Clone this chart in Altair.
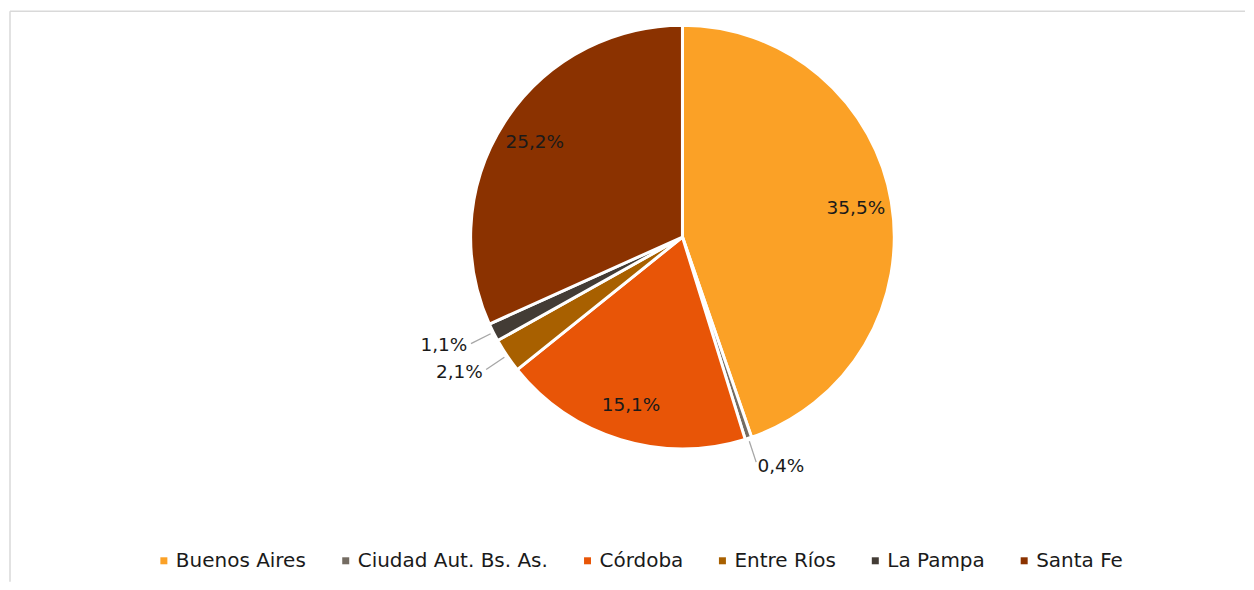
import altair as alt
import pandas as pd

provincias = ["Buenos Aires", "Ciudad Aut. Bs. As.", "Córdoba", "Entre Ríos", "La Pampa", "Santa Fe"]
valores = [35.5, 0.4, 15.1, 2.1, 1.1, 25.2]
etiquetas = ["35,5%", "0,4%", "15,1%", "2,1%", "1,1%", "25,2%"]
colores = ["#FBA126", "#746c62", "#E85507", "#A86000", "#433c35", "#8B3200"]

df = pd.DataFrame({
    "provincia": provincias,
    "valor": valores,
    "etiqueta": etiquetas,
    "idx": list(range(len(provincias))),
})

CX, CY = 675, 229
R = 212
FONT = "DejaVu Sans"

base = alt.Chart(df).transform_window(
    cum="sum(valor)", sort=[alt.SortField("idx")]
).transform_joinaggregate(
    total="sum(valor)"
).transform_calculate(
    lab_in="datum.valor > 5 ? datum.etiqueta : ''",
    lab_r="datum.valor <= 5 && (datum.cum - datum.valor / 2) / datum.total < 0.5 ? datum.etiqueta : ''",
    lab_l="datum.valor <= 5 && (datum.cum - datum.valor / 2) / datum.total >= 0.5 ? datum.etiqueta : ''",
).encode(
    theta=alt.Theta("valor:Q", stack=True),
    color=alt.Color(
        "provincia:N",
        scale=alt.Scale(domain=provincias, range=colores),
        legend=alt.Legend(title=None),
        sort=provincias,
    ),
    order=alt.Order("idx:Q"),
    x=alt.value(CX),
    y=alt.value(CY),
)

pie = base.mark_arc(radius=R, stroke="white", strokeWidth=3)

txt_in = base.mark_text(radius=176, font=FONT, fontSize=18.5,
                        align="center", baseline="middle").encode(
    text="lab_in:N", color=alt.value("#1a1a1a"))
txt_r = base.mark_text(radius=241, font=FONT, fontSize=18.5,
                       align="left", baseline="middle").encode(
    text="lab_r:N", color=alt.value("#1a1a1a"))
txt_l = base.mark_text(radius=241, font=FONT, fontSize=18.5,
                       align="right", baseline="middle").encode(
    text="lab_l:N", color=alt.value("#1a1a1a"))

leaders = alt.Chart(df).transform_window(
    cum="sum(valor)", sort=[alt.SortField("idx")]
).transform_joinaggregate(
    total="sum(valor)"
).transform_filter(
    "datum.valor <= 5"
).transform_calculate(
    a="2 * PI * (datum.cum - datum.valor / 2) / datum.total",
).transform_calculate(
    x1=f"{CX} + {R + 3} * sin(datum.a)",
    y1=f"{CY} - {R + 3} * cos(datum.a)",
    x2=f"{CX} + {R + 25} * sin(datum.a)",
    y2=f"{CY} - {R + 25} * cos(datum.a)",
).mark_rule(color="#a6a6a6", strokeWidth=1.3).encode(
    x=alt.X("x1:Q", scale=None, axis=None),
    y=alt.Y("y1:Q", scale=None, axis=None),
    x2="x2:Q",
    y2="y2:Q",
)

frame_df = pd.DataFrame({"k": [0]})
top_line = alt.Chart(frame_df).mark_rule(color="#d9d9d9", strokeWidth=1.5).encode(
    x=alt.value(2), x2=alt.value(1238), y=alt.value(3))
left_line = alt.Chart(frame_df).mark_rule(color="#d9d9d9", strokeWidth=1.5).encode(
    x=alt.value(2), y=alt.value(3), y2=alt.value(574))

chart = alt.layer(top_line, left_line, pie, leaders, txt_in, txt_r, txt_l).properties(
    width=1238, height=574, padding=0, background="white"
).configure_view(stroke=None).configure_legend(
    orient="none", legendX=146, legendY=543, direction="horizontal",
    labelFont=FONT, labelFontSize=20, labelColor="#1a1a1a",
    symbolType="square", symbolSize=49, symbolStrokeWidth=0,
    columnPadding=29, labelOffset=2, padding=0, labelLimit=400,
)

chart.save("out.html", embed_options={"renderer": "svg", "actions": False})
